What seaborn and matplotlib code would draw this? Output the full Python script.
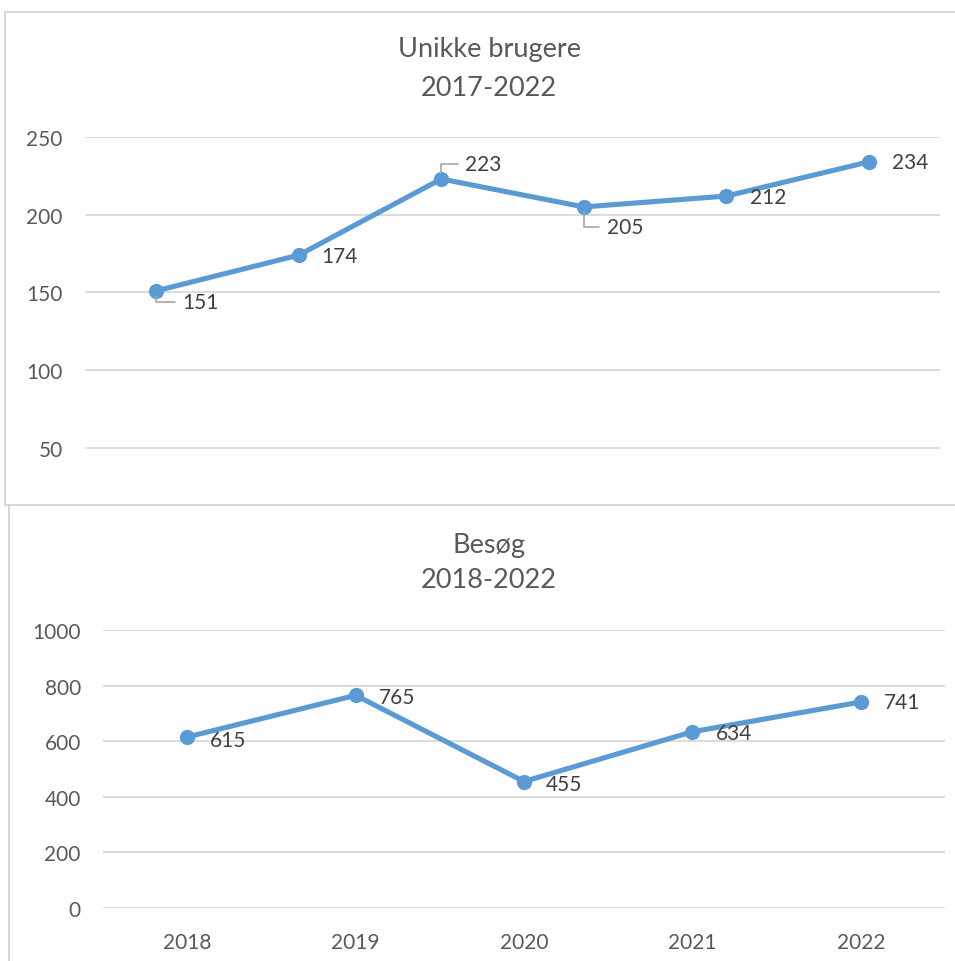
import matplotlib
matplotlib.use("Agg")
import matplotlib.pyplot as plt
import seaborn as sns
import pandas as pd
from matplotlib.lines import Line2D

# ---- data ----
users_years = ["2017", "2018", "2019", "2020", "2021", "2022"]
users_values = [151, 174, 223, 205, 212, 234]
visit_years = ["2018", "2019", "2020", "2021", "2022"]
visit_values = [615, 765, 455, 634, 741]
users_ticks = [50, 100, 150, 200, 250]
visit_ticks = [0, 200, 400, 600, 800, 1000]

sns.set_theme(style="white")
plt.rcParams["font.family"] = ["Lato", "DejaVu Sans"]

BLUE = "#5B9BD5"
GRID = "#D9D9D9"
TXT = "#595959"
LBL = "#404040"

fig = plt.figure(figsize=(9.55, 9.62), dpi=100)
W, H = 955, 962

def ax_at(l, r, t, b):
    return fig.add_axes([l / W, 1 - b / H, (r - l) / W, (b - t) / H])

# ---- frame lines ----
fig.add_artist(Line2D([5 / W, 5 / W], [1 - 13 / H, 1 - 506 / H], color="#D0D0D0", lw=1.2))
fig.add_artist(Line2D([9 / W, 9 / W], [1 - 506 / H, 0], color="#D0D0D0", lw=1.2))
fig.add_artist(Line2D([5 / W, 1], [1 - 13 / H, 1 - 13 / H], color="#D0D0D0", lw=1.2))
fig.add_artist(Line2D([5 / W, 1], [1 - 506 / H, 1 - 506 / H], color="#D0D0D0", lw=1.2))

def style(ax, ticks):
    ax.set_yticks(ticks)
    ax.grid(axis="y", color=GRID, lw=1.3)
    ax.grid(axis="x", visible=False)
    for s in ax.spines.values():
        s.set_visible(False)
    ax.tick_params(axis="both", length=0, labelsize=15, labelcolor=TXT)
    ax.set_xlabel("")
    ax.set_ylabel("")
    ax.set_axisbelow(True)

# ---- top chart ----
ax1 = ax_at(85, 940, 138, 506)
df1 = pd.DataFrame({"year": users_years, "value": users_values})
sns.lineplot(data=df1, x="year", y="value", ax=ax1, color=BLUE, lw=3.7,
             marker="o", markersize=11, markeredgewidth=0, sort=False)
ax1.set_xlim(-0.5, len(users_years) - 0.5)
ax1.set_ylim(13.2, 250)
style(ax1, users_ticks)
ax1.set_xticklabels([])
ax1.tick_params(axis="y", pad=16)

offs1 = [(26, -11), (23, -1), (24, 15), (23, -20), (24, -1), (23, 0)]
leader = [True, False, True, True, False, False]
for i, (v, (dx, dy), ld) in enumerate(zip(users_values, offs1, leader)):
    kw = {}
    if ld:
        kw["arrowprops"] = dict(arrowstyle="-", color="#A6A6A6", lw=1.2,
                                connectionstyle="angle,angleA=0,angleB=90,rad=0",
                                shrinkA=3, shrinkB=4)
    ax1.annotate(str(v), xy=(i, v), xytext=(dx, dy), textcoords="offset pixels",
                 ha="left", va="center", fontsize=15, color=LBL, **kw)

fig.text(489 / W, 1 - 50 / H, "Unikke brugere", ha="center", va="center", fontsize=19.5, color=TXT)
fig.text(489 / W, 1 - 88 / H, "2017-2022", ha="center", va="center", fontsize=19.5, color=TXT)

# ---- bottom chart ----
ax2 = ax_at(103, 945, 631, 909)
df2 = pd.DataFrame({"year": visit_years, "value": visit_values})
sns.lineplot(data=df2, x="year", y="value", ax=ax2, color=BLUE, lw=3.7,
             marker="o", markersize=11, markeredgewidth=0, sort=False)
ax2.set_xlim(-0.5, len(visit_years) - 0.5)
style(ax2, visit_ticks)
ax2.set_ylim(0, 1000)
ax2.tick_params(axis="x", pad=17)
ax2.tick_params(axis="y", pad=16)

offs2 = [(23, -3), (23, -2), (22, -2), (23, -1), (23, 0)]
for i, (v, (dx, dy)) in enumerate(zip(visit_values, offs2)):
    ax2.annotate(str(v), xy=(i, v), xytext=(dx, dy), textcoords="offset pixels",
                 ha="left", va="center", fontsize=15, color=LBL)

fig.text(489 / W, 1 - 545 / H, "Besøg", ha="center", va="center", fontsize=19.5, color=TXT)
fig.text(489 / W, 1 - 581 / H, "2018-2022", ha="center", va="center", fontsize=19.5, color=TXT)

fig.savefig("out.png", dpi=100)
